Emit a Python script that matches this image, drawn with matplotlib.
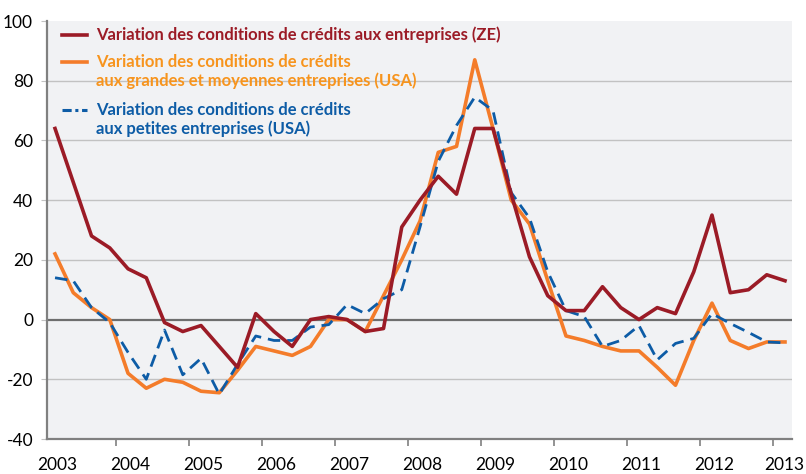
import matplotlib
matplotlib.use("Agg")
import matplotlib.pyplot as plt
import numpy as np

plt.rcParams['font.family'] = ['Lato', 'DejaVu Sans']

# Quarterly data, 2003Q1 -> 2013Q1
start_year = 2003
ze = [64, 46, 28, 24, 17, 14, -1, -4, -2, -9, -16, 2, -4, -9, 0, 1, 0, -4, -3, 31,
      40, 48, 42, 64, 64, 42, 21, 8, 3, 3, 11, 4, 0, 4, 2, 16, 35, 9, 10, 15, 13]
usa_big = [22, 9, 4, 0, -18, -23, -20, -21, -24, -24.5, -17, -9, -10.5, -12, -9, 0, 0, -4, 8, 20,
           33, 56, 58, 87, 64, 40, 32, 13, -5.5, -7, -9, -10.5, -10.5, -16, -22, -7, 5.5, -7, -9.7, -7.5, -7.5]
usa_small = [14, 13, 4, -1, -11, -20, -3.5, -18.5, -13, -25, -15, -5.5, -7, -7, -2.5, -1.7, 5, 2, 7, 10,
             31, 53, 65, 74.5, 70, 42.5, 34, 16, 3, 1, -9, -7, -2, -13.5, -8, -6.3, 2, -1.3, -4.3, -7.5, -7.8]
years = list(range(2003, 2014))
yticks = [-40, -20, 0, 20, 40, 60, 80, 100]

labels = [
    ["Variation des conditions de crédits aux entreprises (ZE)"],
    ["Variation des conditions de crédits", "aux grandes et moyennes entreprises (USA)"],
    ["Variation des conditions de crédits", "aux petites entreprises (USA)"],
]

red = '#9b1b26'
orange = '#f47c2a'
orange_txt = '#f7941d'
blue = '#0d5ca6'
grey = '#808080'

x = start_year + np.arange(len(ze)) / 4

fig = plt.figure(figsize=(8.06, 4.74), dpi=100)
ax = fig.add_axes([47/806, 35/474, 745/806, 418/474])
ax.set_facecolor('#f1f2f4')

for y in yticks[1:-1]:
    if y == 0:
        ax.axhline(0, color='#6e6e6e', lw=1.6, zorder=1)
    else:
        ax.axhline(y, color='#c2c2c2', lw=1.0, zorder=1)

ax.plot(x, usa_small, color=blue, lw=2.0, dashes=(4.5, 2.5), zorder=3)
ax.plot(x, usa_big, color=orange, lw=2.6, zorder=2)
ax.plot(x, ze, color=red, lw=2.6, zorder=4)

ax.set_xlim(2002.89, 2013.096)
ax.set_ylim(-40, 100)

ax.set_yticks(yticks)
ax.set_yticklabels([str(v) for v in yticks])
ax.tick_params(axis='y', length=4, color='#c2c2c2', labelsize=12.5, pad=6)

# year labels sit under the Q1 point, tick marks fall a little before it
ax.set_xticks([yr + 0.03 if yr < 2013 else yr - 0.01 for yr in years])
ax.set_xticklabels([str(yr) for yr in years])
ax.set_xticks([yr - 0.16 for yr in years[1:]], minor=True)
ax.tick_params(axis='x', which='major', length=0, labelsize=12.5, pad=13)
ax.tick_params(axis='x', which='minor', length=5, width=1.2, color=grey)

for s in ['top', 'right']:
    ax.spines[s].set_visible(False)
for s in ['left', 'bottom']:
    ax.spines[s].set_color(grey)
    ax.spines[s].set_linewidth(1.6)

# legend drawn by hand so the handle sits on the first text line
def px_to_ax(px, py):
    return (px - 47) / 745, (439 - py) / 418

entries = [
    (red, red, 35, '-'),
    (orange, orange_txt, 62, '-'),
    (blue, blue, 110, '-.'),
]
for (lc, tc, py, ls), lines in zip(entries, labels):
    x0, yy = px_to_ax(62, py)
    x1, _ = px_to_ax(87, py)
    if ls == '-.':
        ax.plot([x0, x1], [yy, yy], color=lc, lw=2.2, dashes=(3, 1.2, 1, 1.2),
                transform=ax.transAxes, clip_on=False)
    else:
        ax.plot([x0, x1], [yy, yy], color=lc, lw=2.6, transform=ax.transAxes, clip_on=False)
    for k, line in enumerate(lines):
        tx, ty = px_to_ax(96, py + 19 * k)
        ax.text(tx, ty, line, color=tc, fontsize=12, fontweight='bold',
                ha='left', va='center', transform=ax.transAxes)

fig.savefig('out.png', dpi=100)
